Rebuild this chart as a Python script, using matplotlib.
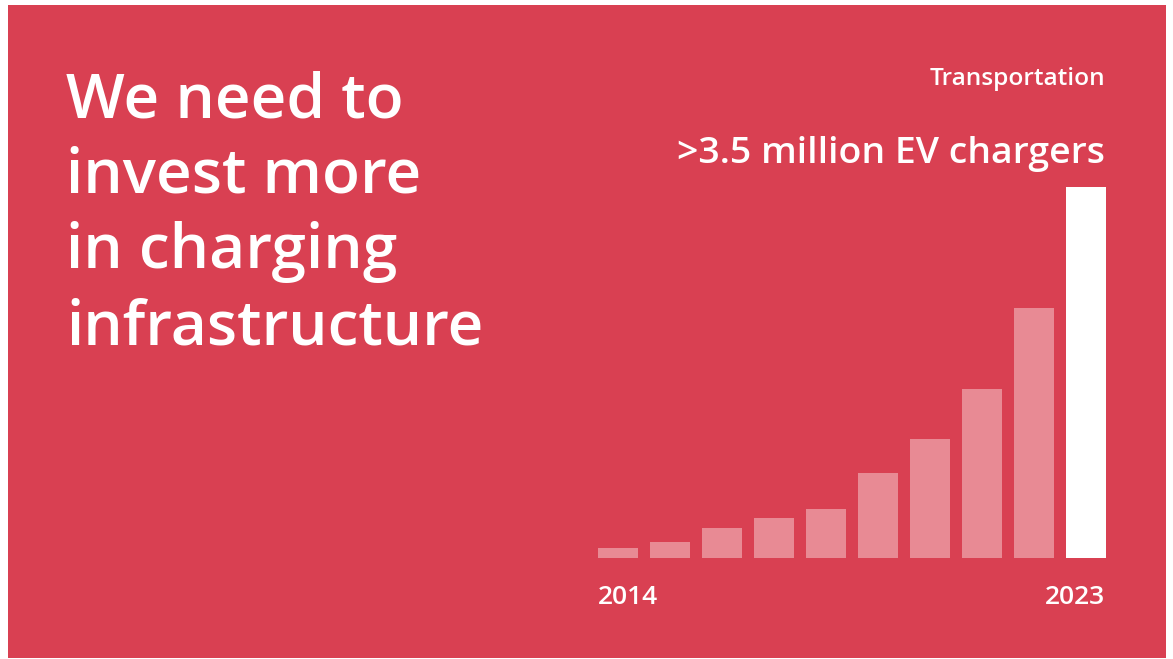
import matplotlib.pyplot as plt
from matplotlib.patches import Rectangle

# EV chargers (millions), 2014-2023
years = [2014, 2015, 2016, 2017, 2018, 2019, 2020, 2021, 2022, 2023]
chargers = [0.10, 0.16, 0.29, 0.39, 0.48, 0.82, 1.15, 1.64, 2.43, 3.60]

W, H = 1173, 659
red = '#D94052'
pink = '#E88A94'
font = 'Open Sans'

fig = plt.figure(figsize=(W / 100, H / 100), dpi=100, facecolor='white')

def fx(x):
    return x / W

def fy(y):
    return 1 - y / H

# red panel with a thin white margin
fig.patches.append(Rectangle((fx(8), fy(658)), fx(1166) - fx(8), fy(5) - fy(658),
                             transform=fig.transFigure, facecolor=red, edgecolor='none', zorder=-5))

# bar chart
left, right, base, top = 598, 1106, 558, 187
ax = fig.add_axes([fx(left), fy(base), fx(right) - fx(left), fy(top) - fy(base)])
ax.set_facecolor('none')
ax.set_zorder(2)
colors = [pink] * (len(years) - 1) + ['white']
ax.bar(range(len(years)), chargers, width=40 / 52, color=colors, linewidth=0)
half = 20 / 52
ax.set_xlim(-half, len(years) - 1 + half)
ax.set_ylim(0, max(chargers))
ax.axis('off')

# headline
lines = ['We need to', 'invest more', 'in charging', 'infrastructure']
for i, line in enumerate(lines):
    fig.text(fx(66), fy(117 + i * 75.7), line, color='white', fontsize=44.7,
             family=font, fontweight='semibold', va='baseline', ha='left')

fig.text(fx(1105), fy(85), 'Transportation', color='white', fontsize=17.6,
         family=font, fontweight='semibold', va='baseline', ha='right')
fig.text(fx(1105), fy(163), '>3.5 million EV chargers', color='white', fontsize=26.9,
         family=font, fontweight='semibold', va='baseline', ha='right')

fig.text(fx(598), fy(604), str(years[0]), color='white', fontsize=19,
         family=font, fontweight='semibold', va='baseline', ha='left')
fig.text(fx(1105), fy(604), str(years[-1]), color='white', fontsize=19,
         family=font, fontweight='semibold', va='baseline', ha='right')

fig.savefig('out.png', dpi=100, facecolor='white')
